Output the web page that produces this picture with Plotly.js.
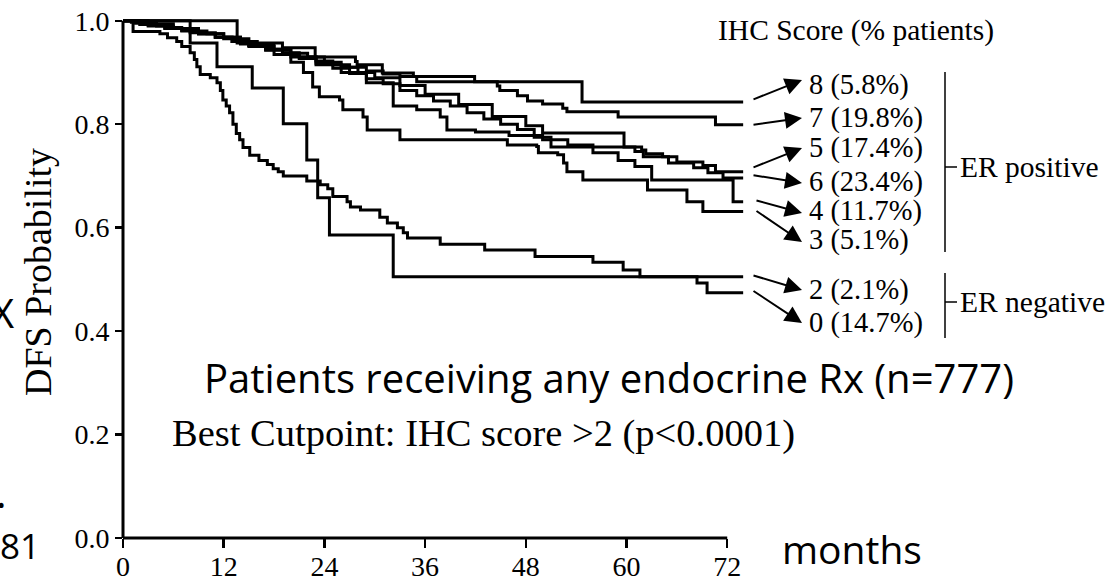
<!DOCTYPE html>
<html>
<head>
<meta charset="utf-8">
<script src="https://cdn.plot.ly/plotly-3.0.1.min.js"></script>
<style>html,body{margin:0;padding:0;background:#fff;}#chart{width:1115px;height:584px;}</style>
</head>
<body>
<div id="chart"></div>
<script>
// ---- data ----
const monthTicks = [0, 12, 24, 36, 48, 60, 72];
const probTicks = [0.0, 0.2, 0.4, 0.6, 0.8, 1.0];

const ihcScores = ['8', '7', '5', '6', '4', '3', '2', '0'];
const pctPatients = ['5.8%', '19.8%', '17.4%', '23.4%', '11.7%', '5.1%', '2.1%', '14.7%'];

const months8 = [0, 13.6, 19.0, 22.9, 27.7, 27.9, 30.9, 34.6, 41.9, 54.7, 73.9];
const dfs8    = [1.0, 0.957, 0.948, 0.930, 0.921, 0.915, 0.899, 0.892, 0.882, 0.843, 0.843];

const months7 = [0, 1.5, 3, 5, 7, 9, 11, 13, 15, 17, 19, 21, 23, 25, 27, 29, 31, 33, 35, 44.6, 44.9, 47.0, 48.2, 50.0, 52.4, 52.9, 59.0, 70.6, 73.9];
const dfs7    = [1.0, 0.995, 0.99, 0.985, 0.98, 0.975, 0.968, 0.96, 0.952, 0.945, 0.938, 0.93, 0.922, 0.915, 0.91, 0.903, 0.897, 0.892, 0.882, 0.874, 0.865, 0.855, 0.845, 0.839, 0.831, 0.824, 0.814, 0.799, 0.799];

const months5 = [0, 2, 4, 6, 8, 10, 12, 14, 16, 18, 20, 22, 24, 26, 28, 30, 33, 36, 40, 44, 48, 50, 59.7, 61.8, 62.3, 64.3, 66.0, 69.1, 70.6, 73.9];
const dfs5    = [1.0, 0.996, 0.99, 0.985, 0.98, 0.975, 0.968, 0.96, 0.952, 0.945, 0.937, 0.93, 0.92, 0.91, 0.9, 0.89, 0.875, 0.858, 0.838, 0.815, 0.797, 0.783, 0.756, 0.75, 0.743, 0.737, 0.727, 0.72, 0.708, 0.708];

const months6 = [0, 1, 3, 5, 7, 9, 11, 13, 15, 17, 19, 21, 23, 25, 27, 29, 31, 33, 35, 37, 39, 41, 43, 45, 47, 49, 51, 61, 62, 65, 68, 69.7, 71.5, 73.9];
const dfs6    = [1.0, 0.997, 0.992, 0.987, 0.981, 0.975, 0.968, 0.96, 0.952, 0.944, 0.935, 0.927, 0.918, 0.908, 0.898, 0.888, 0.878, 0.865, 0.855, 0.845, 0.835, 0.822, 0.81, 0.8, 0.79, 0.775, 0.756, 0.747, 0.737, 0.725, 0.716, 0.706, 0.696, 0.696];

const months4 = [0, 2, 5, 8, 11, 14, 17, 20, 23, 26, 29, 32.2, 35, 37.8, 38.6, 42, 46, 50, 53, 56, 59, 61, 63, 72.7, 73.9];
const dfs4    = [1.0, 0.993, 0.985, 0.977, 0.968, 0.955, 0.943, 0.93, 0.915, 0.9, 0.88, 0.835, 0.828, 0.814, 0.789, 0.785, 0.778, 0.77, 0.76, 0.745, 0.73, 0.718, 0.692, 0.65, 0.65];

const months3 = [0, 3, 6, 9, 12, 15, 18, 20, 21.5, 22.6, 23.4, 25.8, 26.2, 28.6, 29.1, 33, 45.8, 49.3, 49.5, 51.8, 52.5, 52.9, 54.8, 62.5, 67.2, 69.1, 73.9];
const dfs3    = [1.0, 0.994, 0.985, 0.975, 0.965, 0.95, 0.935, 0.92, 0.9, 0.872, 0.853, 0.847, 0.828, 0.814, 0.789, 0.77, 0.76, 0.757, 0.745, 0.741, 0.725, 0.708, 0.692, 0.673, 0.65, 0.631, 0.631];

const months2 = [0, 8.0, 11.2, 15.4, 19.1, 21.9, 23.2, 24.6, 32.2, 73.9];
const dfs2    = [1.0, 0.957, 0.911, 0.870, 0.801, 0.731, 0.658, 0.586, 0.505, 0.505];

const months0 = [0, 1.2, 4.4, 5.3, 6.4, 7.0, 8.0, 8.5, 8.8, 9.2, 10.4, 11.2, 11.6, 11.9, 12.3, 12.7, 13.1, 13.5, 13.9, 14.3, 15.1, 16.2, 17.2, 17.9, 18.5, 19.1, 21.9, 23.5, 24.4, 25.0, 26.7, 27.1, 28.3, 30.6, 31.5, 32.7, 33.4, 33.9, 37.8, 43.1, 49.1, 56.0, 59.6, 61.6, 68.4, 69.6, 73.9];
const dfs0    = [1.0, 0.979, 0.975, 0.967, 0.96, 0.95, 0.938, 0.925, 0.911, 0.896, 0.89, 0.88, 0.865, 0.847, 0.835, 0.822, 0.8, 0.782, 0.77, 0.755, 0.74, 0.73, 0.722, 0.714, 0.708, 0.7, 0.69, 0.683, 0.675, 0.66, 0.65, 0.64, 0.634, 0.62, 0.609, 0.6, 0.59, 0.58, 0.568, 0.557, 0.544, 0.533, 0.518, 0.505, 0.493, 0.474, 0.474];

const curveX = [months8, months7, months5, months6, months4, months3, months2, months0];
const curveY = [dfs8, dfs7, dfs5, dfs6, dfs4, dfs3, dfs2, dfs0];

// ---- drawing ----
const serif = 'Liberation Serif, Times New Roman, serif';
const sans = 'Open Sans, sans-serif';

const traces = curveX.map((xs, i) => ({
  x: xs, y: curveY[i], type: 'scatter', mode: 'lines',
  line: {shape: 'hv', color: '#000', width: 3},
  name: ihcScores[i] + ' (' + pctPatients[i] + ')', hoverinfo: 'name'
}));

const W = 1115, H = 584, ML = 123, MR = 371, MT = 13, MB = 46;
const PW = W - ML - MR, PH = H - MT - MB;
const X = px => (px - ML) / PW;
const Y = py => (H - MB - py) / PH;
const yMax = 1.015, xMax = 74;

const ann = [];
function txt(text, px, py, size, fam, xanchor, extra) {
  ann.push(Object.assign({text: text, x: X(px), y: Y(py), xref: 'paper', yref: 'paper',
    xanchor: xanchor || 'left', yanchor: 'middle', showarrow: false,
    font: {family: fam, size: size, color: '#000'}}, extra || {}));
}
txt('IHC Score (% patients)', 716, 31, 29.5, serif);
const labelY = [85, 118, 148, 182, 211, 240, 290, 323];
const arrowTail = [[752,100],[752,125],[752,168],[752,175],[755,200],[755,210],[752,275],[752,290]];
const arrowHead = [[802,80],[802,118],[802,148],[802,183],[802,213],[802,242],[802,290],[802,323]];
ihcScores.forEach((s, i) => {
  txt(s + ' (' + pctPatients[i] + ')', 807, labelY[i], 28.5, serif);
  ann.push({text: '', x: X(arrowHead[i][0]), y: Y(arrowHead[i][1]), xref: 'paper', yref: 'paper',
    ax: arrowTail[i][0] - arrowHead[i][0], ay: arrowTail[i][1] - arrowHead[i][1],
    showarrow: true, arrowhead: 2, arrowsize: 1.7, arrowwidth: 2, arrowcolor: '#000', standoff: 0, startstandoff: 0});
});
txt('ER positive', 958, 167, 29.5, serif);
txt('ER negative', 958, 302, 29.5, serif);
txt('DFS Probability', 38, 272, 38, serif, 'center', {textangle: -90});
txt('Best Cutpoint: IHC score >2 (p<0.0001)', 170, 433, 38.5, serif);
txt('Patients receiving any endocrine Rx (n=777)', 609, 377, 40, sans, 'center');
txt('months', 852, 548, 39, sans, 'center');
txt('X', 16, 312, 40, sans, 'right');
txt('.', 9, 492, 40, sans, 'right');
txt('81', 42, 545, 35, sans, 'right');

const shapes = [
  {type: 'line', xref: 'paper', yref: 'paper', x0: 0, x1: 72 / xMax, y0: 0, y1: 0, line: {color: '#000', width: 3}},
  {type: 'line', xref: 'paper', yref: 'paper', x0: 0, x1: 0, y0: 0, y1: 1 / yMax, line: {color: '#000', width: 3}},
  {type: 'line', xref: 'paper', yref: 'paper', x0: X(945), x1: X(945), y0: Y(72), y1: Y(252), line: {color: '#000', width: 1.5}},
  {type: 'line', xref: 'paper', yref: 'paper', x0: X(945), x1: X(957), y0: Y(167), y1: Y(167), line: {color: '#000', width: 1.5}},
  {type: 'line', xref: 'paper', yref: 'paper', x0: X(945), x1: X(945), y0: Y(273), y1: Y(338), line: {color: '#000', width: 1.5}},
  {type: 'line', xref: 'paper', yref: 'paper', x0: X(945), x1: X(957), y0: Y(302), y1: Y(302), line: {color: '#000', width: 1.5}}
];

const layout = {
  width: W, height: H, margin: {l: ML, r: MR, t: MT, b: MB, pad: 0},
  paper_bgcolor: '#fff', plot_bgcolor: '#fff', showlegend: false,
  xaxis: {range: [0, xMax], tickvals: monthTicks, ticks: 'outside', ticklen: 9, tickwidth: 2.5, tickcolor: '#000',
    ticklabelstandoff: -6,
    showgrid: false, zeroline: false, showline: false, fixedrange: true,
    tickfont: {family: serif, size: 28, color: '#000'}},
  yaxis: {range: [0, yMax], tickvals: probTicks, tickformat: '.1f', ticks: 'outside', ticklen: 7, tickwidth: 2.5, tickcolor: '#000',
    showgrid: false, zeroline: false, showline: false, fixedrange: true,
    tickfont: {family: serif, size: 28, color: '#000'}},
  annotations: ann, shapes: shapes
};
Plotly.newPlot('chart', traces, layout, {displayModeBar: false, staticPlot: true});
</script>
</body>
</html>
